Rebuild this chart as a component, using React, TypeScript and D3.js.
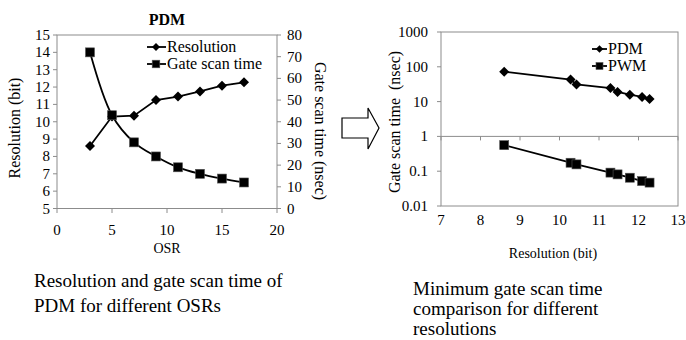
import React from "react";
import { scaleLinear, scaleLog, line, curveCatmullRom } from "d3";

// left chart: PDM vs OSR
const osr = [3, 5, 7, 9, 11, 13, 15, 17];
const resolution = [8.6, 10.3, 10.35, 11.25, 11.45, 11.75, 12.08, 12.27];
const gateScanTime = [72, 43, 30.5, 24, 19, 16, 13.8, 12];
const leftTicksRes = [5, 6, 7, 8, 9, 10, 11, 12, 13, 14, 15];
const leftTicksTime = [0, 10, 20, 30, 40, 50, 60, 70, 80];
const leftTicksOsr = [0, 5, 10, 15, 20];

// right chart: gate scan time vs resolution (log)
const resBits = [8.6, 10.28, 10.43, 11.29, 11.47, 11.78, 12.09, 12.28];
const pdmTime = [72, 43, 31, 24.5, 19, 15.8, 13.6, 11.8];
const pwmTime = [0.56, 0.175, 0.157, 0.091, 0.081, 0.065, 0.052, 0.047];
const rightTicksY = [1000, 100, 10, 1, 0.1, 0.01];
const rightTicksX = [7, 8, 9, 10, 11, 12, 13];

const FONT = "'Liberation Serif', 'Times New Roman', Times, serif";
const AXIS = "#8c8c8c";

function Diamond({ x, y, s = 5 }: { x: number; y: number; s?: number }) {
  return <path d={`M${x},${y - s}L${x + s},${y}L${x},${y + s}L${x - s},${y}Z`} fill="#000" />;
}

function Square({ x, y, s = 4.5 }: { x: number; y: number; s?: number }) {
  return <rect x={x - s} y={y - s} width={2 * s} height={2 * s} fill="#000" stroke="#555" strokeWidth={0.6} />;
}

function LeftChart() {
  const x = scaleLinear().domain([0, 20]).range([57, 277]);
  const yRes = scaleLinear().domain([5, 15]).range([208.5, 35]);
  const yTime = scaleLinear().domain([0, 80]).range([208.5, 35]);

  const resLine = line<number>()
    .x((d, i) => x(osr[i]))
    .y((d) => yRes(d));
  // the gate scan time series is drawn smoothed
  const timeLine = line<number>()
    .x((d, i) => x(osr[i]))
    .y((d) => yTime(d))
    .curve(curveCatmullRom);

  return (
    <g>
      <text x={167} y={25} textAnchor="middle" fontSize={16} fontWeight="bold">PDM</text>
      {/* plot box */}
      <rect x={57} y={35} width={220} height={173.5} fill="none" stroke={AXIS} strokeWidth={1} />
      {leftTicksRes.map((t) => (
        <g key={"r" + t}>
          <line x1={53} x2={57} y1={yRes(t)} y2={yRes(t)} stroke={AXIS} />
          <text x={50} y={yRes(t) + 5} textAnchor="end" fontSize={15}>{t}</text>
        </g>
      ))}
      {leftTicksTime.map((t) => (
        <g key={"t" + t}>
          <line x1={277} x2={281} y1={yTime(t)} y2={yTime(t)} stroke={AXIS} />
          <text x={287} y={yTime(t) + 5} fontSize={15}>{t}</text>
        </g>
      ))}
      {leftTicksOsr.map((t) => (
        <g key={"o" + t}>
          <line x1={x(t)} x2={x(t)} y1={208.5} y2={213} stroke={AXIS} />
          <text x={x(t)} y={235} textAnchor="middle" fontSize={15}>{t}</text>
        </g>
      ))}
      <text x={167} y={253} textAnchor="middle" fontSize={14}>OSR</text>
      <text transform="translate(20,128) rotate(-90)" textAnchor="middle" fontSize={16}>Resolution (bit)</text>
      <text transform="translate(315,131) rotate(90)" textAnchor="middle" fontSize={16}>Gate scan time (nsec)</text>

      <path d={timeLine(gateScanTime) ?? ""} fill="none" stroke="#000" strokeWidth={1.8} />
      <path d={resLine(resolution) ?? ""} fill="none" stroke="#000" strokeWidth={1.8} />
      {resolution.map((d, i) => <Diamond key={"d" + i} x={x(osr[i])} y={yRes(d)} />)}
      {gateScanTime.map((d, i) => <Square key={"s" + i} x={x(osr[i])} y={yTime(d)} />)}

      {/* legend */}
      <line x1={147} x2={166} y1={47} y2={47} stroke="#000" strokeWidth={1.8} />
      <Diamond x={156} y={47} s={4} />
      <text x={167} y={52} fontSize={16}>Resolution</text>
      <line x1={147} x2={166} y1={64} y2={64} stroke="#000" strokeWidth={1.8} />
      <Square x={156} y={64} s={3.8} />
      <text x={167} y={69} fontSize={16}>Gate scan time</text>
    </g>
  );
}

function RightChart() {
  const x = scaleLinear().domain([7, 13]).range([441, 678]);
  const y = scaleLog().domain([0.01, 1000]).range([206, 32]);

  const lineGen = (vals: number[]) =>
    line<number>()
      .x((d, i) => x(resBits[i]))
      .y((d) => y(d))(vals) ?? "";

  return (
    <g>
      <rect x={441} y={32} width={237} height={174} fill="none" stroke={AXIS} strokeWidth={1} />
      {/* x axis crosses at 1 */}
      <line x1={441} x2={678} y1={y(1)} y2={y(1)} stroke={AXIS} />
      {rightTicksY.map((t) => (
        <g key={"y" + t}>
          <line x1={437} x2={441} y1={y(t)} y2={y(t)} stroke={AXIS} />
          <text x={428} y={y(t) + 5} textAnchor="end" fontSize={15}>{t}</text>
        </g>
      ))}
      {rightTicksX.map((t) => (
        <g key={"x" + t}>
          <line x1={x(t)} x2={x(t)} y1={y(1)} y2={y(1) + 4} stroke={AXIS} />
          <text x={x(t)} y={225} textAnchor="middle" fontSize={15}>{t}</text>
        </g>
      ))}
      <text x={553} y={258} textAnchor="middle" fontSize={14}>Resolution (bit)</text>
      <text transform="translate(400,122) rotate(-90)" textAnchor="middle" fontSize={16} style={{ whiteSpace: "pre" }}>
        Gate scan time  (nsec)
      </text>

      <path d={lineGen(pdmTime)} fill="none" stroke="#000" strokeWidth={1.8} />
      <path d={lineGen(pwmTime)} fill="none" stroke="#000" strokeWidth={1.8} />
      {pdmTime.map((d, i) => <Diamond key={"p" + i} x={x(resBits[i])} y={y(d)} />)}
      {pwmTime.map((d, i) => <Square key={"w" + i} x={x(resBits[i])} y={y(d)} />)}

      {/* legend */}
      <line x1={592} x2={607} y1={49} y2={49} stroke="#000" strokeWidth={1.8} />
      <Diamond x={599.5} y={49} s={3.8} />
      <text x={608} y={54} fontSize={16}>PDM</text>
      <line x1={592} x2={607} y1={66} y2={66} stroke="#000" strokeWidth={1.8} />
      <Square x={599.5} y={66} s={3.5} />
      <text x={608} y={71} fontSize={16}>PWM</text>
    </g>
  );
}

export default function App() {
  return (
    <svg
      width={686}
      height={340}
      style={{ position: "absolute", left: 0, top: 0, background: "#fff", fontFamily: FONT }}
    >
      <LeftChart />
      <RightChart />
      {/* hollow arrow */}
      <path
        d="M342,118L368,118L368,108L379,128L368,149L368,138L342,138Z"
        fill="#fff"
        stroke="#000"
        strokeWidth={1.2}
      />
      <g fontSize={19}>
        <text x={34} y={287}>Resolution and gate scan time of</text>
        <text x={34} y={312}>PDM for different OSRs</text>
        <text x={413} y={295}>Minimum gate scan time</text>
        <text x={413} y={315}>comparison for different</text>
        <text x={413} y={335}>resolutions</text>
      </g>
    </svg>
  );
}
